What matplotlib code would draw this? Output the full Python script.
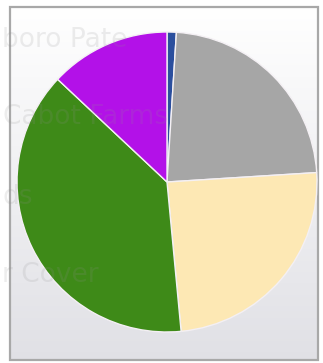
import matplotlib
matplotlib.use("Agg")
import matplotlib.pyplot as plt
import numpy as np
from matplotlib.patches import Rectangle

categories = ["Blue", "Grey", "Yellow", "Green", "Purple"]
values = [1.0, 23.0, 24.5, 38.5, 13.0]
colors = ["#2b4f9e", "#a6a6a6", "#fde8b4", "#3e8a18", "#b311e8"]
bg_labels = ["boro Pate", "Cabot Farms", "ds", "r Cover"]

W, H = 323, 363
fig = plt.figure(figsize=(W / 100, H / 100), dpi=100)
ax = fig.add_axes([0, 0, 1, 1])

# background gradient inside frame
grad = np.linspace(1.0, 0.0, 256).reshape(-1, 1)
top = np.array([1.0, 1.0, 1.0])
bot = np.array([0.88, 0.88, 0.90])
img = (grad[..., None] * top + (1 - grad[..., None]) * bot)
ax.imshow(img, extent=[10, 318, 3, 356], aspect="auto", zorder=0)
ax.add_patch(Rectangle((10, 3), 308, 353, fill=False, edgecolor="#a8a8a8", lw=1.6, zorder=1))

ax.pie(values, colors=colors, startangle=90, counterclock=False,
       center=(167, 181), radius=150,
       wedgeprops=dict(edgecolor="#f4f0f4", linewidth=1.0), frame=True)

ypos = [323, 246, 166, 88]
xpos = [2, 3, 2, 2]
for lab, x, y in zip(bg_labels, xpos, ypos):
    ax.text(x, y, lab, fontsize=19, color="#909090", alpha=0.16,
            ha="left", va="center", zorder=5)

ax.set_xlim(0, W)
ax.set_ylim(0, H)
ax.set_aspect("auto")
ax.axis("off")
fig.savefig("out.png", dpi=100)
